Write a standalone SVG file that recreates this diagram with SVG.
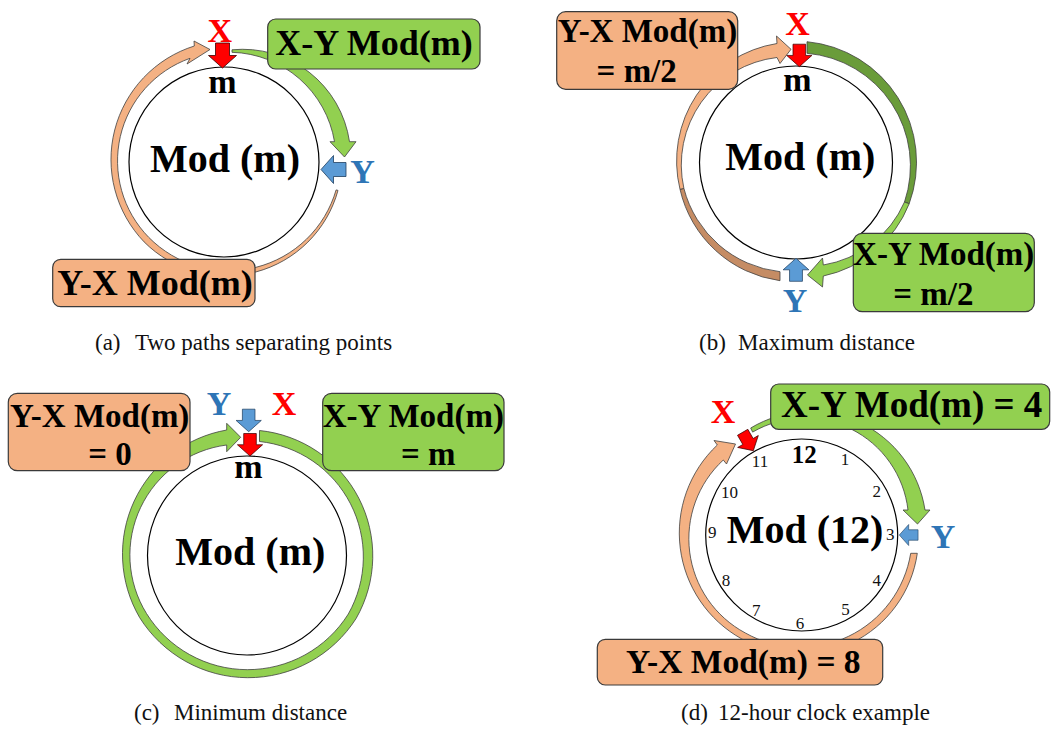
<svg xmlns="http://www.w3.org/2000/svg" xmlns:xlink="http://www.w3.org/1999/xlink" width="1051" height="729" viewBox="0 0 1051 729">
<style>
.t{font-family:"Liberation Serif","Times New Roman",serif;font-weight:bold;text-anchor:middle}
.c{font-family:"Liberation Serif","Times New Roman",serif;font-size:23px;fill:#111}
.n{font-family:"Liberation Serif","Times New Roman",serif;font-size:17px;text-anchor:middle;fill:#111}
.org{fill:#f4b183;stroke:#404040;stroke-width:0.8}
.grn{fill:#92d050;stroke:#404040;stroke-width:0.8}
.dgrn{fill:#6a9c3a;stroke:#404040;stroke-width:0.8}
.brn{fill:#c58c64;stroke:#404040;stroke-width:0.8}
.borg{fill:#f4b183;stroke:#3a3a3a;stroke-width:1.2}
.bgrn{fill:#92d050;stroke:#3a3a3a;stroke-width:1.2}
.ring{fill:#fff;stroke:#000;stroke-width:1.2}
.red{fill:#ff0000;stroke:#3a0000;stroke-width:0.8}
.blue{fill:#5b9bd5;stroke:#1f3f5f;stroke-width:0.8}
.xl{fill:#ff0000;font-size:34px}
.yl{fill:#2e75b6;font-size:34px}
</style>
<defs>
<path id="ba" d="M-7,-25 L7,-25 L7,-12.5 L14,-12.5 L0,0 L-14,-12.5 L-7,-12.5 Z"/>
</defs>
<rect width="1051" height="729" fill="#fff"/>

<!-- ===== Panel (a) ===== -->
<g id="connectors-a">
<path class="org" d="M 338 190.4 A 116 116 0 0 1 144.1 241.9 A 119 119 0 0 1 194.3 46 L 194 41 L 210 49.5 L 187 64 L 190 58.3 A 109 109 0 0 0 148.7 237.3 A 112 112 0 0 0 336.1 189.9 Z"/>
<path class="grn" d="M 232 49.8 A 108 108 0 0 1 349.5 141.7 L 356 141.7 L 344.5 157 L 330 141.7 L 334.5 141.7 A 107 107 0 0 0 232 52.3 Z"/>
</g>
<g id="a-circle"><circle class="ring" cx="224" cy="162" r="95"/><text class="t" x="225" y="171.5" font-size="40">Mod (m)</text><text class="t" x="222.5" y="93" font-size="34">m</text></g>
<g id="a-xy"><rect class="bgrn" x="267.7" y="19" width="212.3" height="50" rx="8"/><text class="t" x="374" y="55" font-size="36">X-Y Mod(m)</text></g>
<g id="a-yx"><rect class="borg" x="52.7" y="259.3" width="202.3" height="47.4" rx="8"/><text class="t" x="155" y="295" font-size="36">Y-X Mod(m)</text></g>
<g id="a-x"><use href="#ba" class="red" transform="translate(222.5,68)"/><text class="t xl" x="219.7" y="41.7">X</text></g>
<g id="a-y"><use href="#ba" class="blue" transform="translate(321,169.5) rotate(90)"/><text class="t yl" x="362.5" y="183.3">Y</text></g>
<text class="c" x="95" y="350">(a)</text><text class="c" x="135" y="350">Two paths separating points</text>

<!-- ===== Panel (b) ===== -->
<g id="connectors-b">
<path class="brn" d="M 780 280.7 A 119 119 0 0 1 680 189.3 L 683.9 188.4 A 112 112 0 0 0 780 271.7 Z"/>
<path class="org" d="M 680 189.3 A 119 119 0 0 1 777 43.5 L 776.5 36 L 791 49.3 L 780 63.5 L 777 57.5 A 108 108 0 0 0 683.9 188.4 Z"/>
<path class="dgrn" d="M 807 41.7 A 121 121 0 0 1 909.2 203.7 L 904.5 202 A 113 113 0 0 0 807 53.3 Z"/>
<path class="grn" d="M 909.2 203.7 A 119 119 0 0 1 823.3 276 L 822.5 287 L 807.5 275 L 822.5 258 L 823.3 265 A 108 108 0 0 0 904.5 202 Z"/>
</g>
<g id="b-circle"><circle class="ring" cx="796" cy="162.5" r="96.5"/><text class="t" x="800.3" y="170" font-size="40">Mod (m)</text><text class="t" x="797.3" y="90.7" font-size="34">m</text></g>
<g id="b-yx"><rect class="borg" x="556.7" y="11.7" width="181" height="77.6" rx="9"/><text class="t" x="647.5" y="41.7" font-size="33">Y-X Mod(m)</text><text class="t" x="636.7" y="81.7" font-size="33">= m/2</text></g>
<g id="b-xy"><rect class="bgrn" x="853.3" y="233.3" width="181" height="78.4" rx="9"/><text class="t" x="943.7" y="265" font-size="33">X-Y Mod(m)</text><text class="t" x="933.3" y="305" font-size="33">= m/2</text></g>
<g id="b-x"><use href="#ba" class="red" transform="translate(799.3,66.7) scale(0.9)"/><text class="t xl" x="797.5" y="35">X</text></g>
<g id="b-y"><use href="#ba" class="blue" transform="translate(796,258.3) rotate(180) scale(0.92)"/><text class="t yl" x="795" y="311.7">Y</text></g>
<text class="c" x="699" y="350">(b)</text><text class="c" x="738" y="350">Maximum distance</text>

<!-- ===== Panel (c) ===== -->
<g id="connectors-c">
<path class="grn" d="M 259.5 430.5 A 126 126 0 0 1 356.1 618.5 A 128 128 0 0 1 139.6 617.5 A 126 126 0 0 1 226.7 430 L 226.7 423.3 L 240.7 437.3 L 226.7 451.7 L 226.7 445 A 111 111 0 0 0 146.5 613.5 A 119 119 0 0 0 348.3 614 A 116 116 0 0 0 259.5 441.5 Z"/>
</g>
<g id="c-circle"><circle class="ring" cx="247" cy="555.5" r="99.5"/><text class="t" x="250.3" y="565" font-size="40">Mod (m)</text><text class="t" x="248.3" y="478.3" font-size="34">m</text></g>
<g id="c-yx"><rect class="borg" x="8.3" y="393.3" width="181.7" height="77.4" rx="9"/><text class="t" x="99.7" y="426.7" font-size="33">Y-X Mod(m)</text><text class="t" x="110" y="465" font-size="33">= 0</text></g>
<g id="c-xy"><rect class="bgrn" x="322.7" y="393.3" width="181.3" height="77.4" rx="9"/><text class="t" x="413.3" y="426.7" font-size="33">X-Y Mod(m)</text><text class="t" x="428.3" y="465" font-size="33">= m</text></g>
<g id="c-y"><use href="#ba" class="blue" transform="translate(248.7,431.7) scale(0.9)"/><text class="t yl" x="219" y="415">Y</text></g>
<g id="c-x"><use href="#ba" class="red" transform="translate(250,456) scale(0.9)"/><text class="t xl" x="284" y="415">X</text></g>
<text class="c" x="134" y="720">(c)</text><text class="c" x="174" y="720">Minimum distance</text>

<!-- ===== Panel (d) ===== -->
<g id="connectors-d">
<path class="org" d="M 917.3 553.3 A 118 118 0 0 1 741.7 638.9 A 121 121 0 0 1 717.3 445 L 714 440.5 L 735.5 444 L 726.5 464 L 723.3 460 A 107 107 0 0 0 745.2 632.9 A 112 112 0 0 0 910.7 553.3 Z"/>
<path class="grn" d="M 750.7 428 A 116 116 0 0 1 925 510 L 930 510 L 917.5 524 L 903 510 L 908 510 A 104 104 0 0 0 752.6 432.1 Z"/>
</g>
<g id="d-clock">
<circle class="ring" cx="801.7" cy="535" r="96"/>
<text class="t" x="805" y="542.7" font-size="40">Mod (12)</text>
<text class="t" x="804.2" y="462.7" font-size="25">12</text>
<text class="n" x="845" y="465">1</text>
<text class="n" x="876.7" y="497.3">2</text>
<text class="n" x="890.3" y="540">3</text>
<text class="n" x="876.7" y="585.7">4</text>
<text class="n" x="845.5" y="615">5</text>
<text class="n" x="800" y="629.3">6</text>
<text class="n" x="756.3" y="616">7</text>
<text class="n" x="726" y="586">8</text>
<text class="n" x="712.3" y="538.3">9</text>
<text class="n" x="729.5" y="498.3">10</text>
<text class="n" x="760" y="467.3">11</text>
</g>
<g id="d-xy"><rect class="bgrn" x="770.7" y="384" width="279" height="45.3" rx="8"/><text class="t" x="911.7" y="416.7" font-size="37">X-Y Mod(m) = 4</text></g>
<g id="d-yx"><rect class="borg" x="597.3" y="639.3" width="285.4" height="45.7" rx="8"/><text class="t" x="743.3" y="672.7" font-size="33.5">Y-X Mod(m) = 8</text></g>
<g id="d-x"><use href="#ba" class="red" transform="translate(753.3,450.7) rotate(-30) scale(0.85)"/><text class="t xl" x="723" y="423.3">X</text></g>
<g id="d-y"><use href="#ba" class="blue" transform="translate(899.3,535) rotate(90) scale(0.75)"/><text class="t yl" x="943" y="548.3">Y</text></g>
<text class="c" x="681" y="720">(d)</text><text class="c" x="718" y="720">12-hour clock example</text>
</svg>
